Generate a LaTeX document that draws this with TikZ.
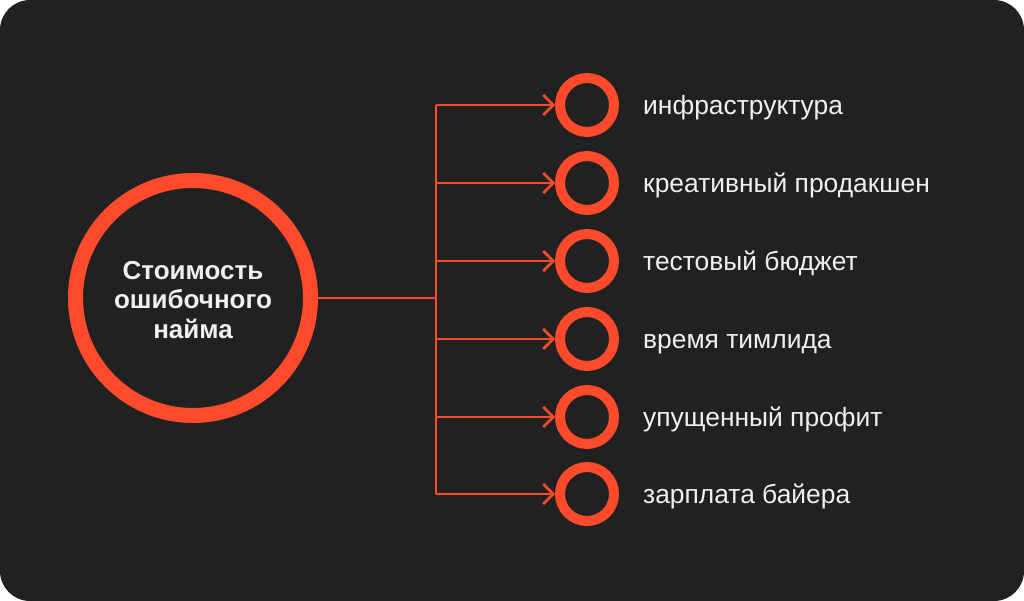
\documentclass[tikz,border=0pt]{standalone}
\usepackage{fontspec}
\setmainfont{Liberation Sans}
\usetikzlibrary{arrows.meta}
\definecolor{bg}{RGB}{33,33,33}
\definecolor{accent}{RGB}{255,74,43}
\definecolor{txt}{RGB}{240,240,240}
\tikzset{
  hub/.style={circle,draw=accent,line width=15pt,minimum size=235pt,inner sep=0pt},
  hubtext/.style={align=center,inner sep=0pt,text=txt,font=\fontsize{26}{29.5}\selectfont\bfseries},
  dot/.style={circle,draw=accent,line width=10pt,minimum size=54pt,inner sep=0pt},
  lbl/.style={anchor=mid west,inner sep=0pt,text=txt,font=\fontsize{26.4}{30}\selectfont},
  wire/.style={draw=accent,line width=2.5pt},
  arr/.style={wire,-{Straight Barb[length=10pt,width=20pt]}}
}
\begin{document}
\begin{tikzpicture}[x=1pt,y=-1pt]
\useasboundingbox (0,0) rectangle (1024,601);
\fill[white] (0,0) rectangle (1024,601);
\fill[bg,rounded corners=30pt] (0,0) rectangle (1024,601);
\node[hub] (hub) at (193,298) {};
\node[hubtext] (hubt) at (193,300) {Стоимость\\ошибочного\\найма};
\coordinate (j) at (436,298);
\coordinate (jt) at (436,105);
\coordinate (jb) at (436,494);
\draw[wire] (hub.east) -- (j);
\draw[wire] (jt) -- (jb);
\foreach \i/\y/\t in {1/105/инфраструктура,2/183/креативный продакшен,3/261/тестовый бюджет,4/339/время тимлида,5/417/упущенный профит,6/494/зарплата байера}{
  \node[dot] (c\i) at (587,\y) {};
  \coordinate (s\i) at (436,\y);
  \draw[arr] (s\i) -- (c\i.west);
  \node[lbl] (l\i) at (643,\y+7) {\t};
}
\end{tikzpicture}
\end{document}
